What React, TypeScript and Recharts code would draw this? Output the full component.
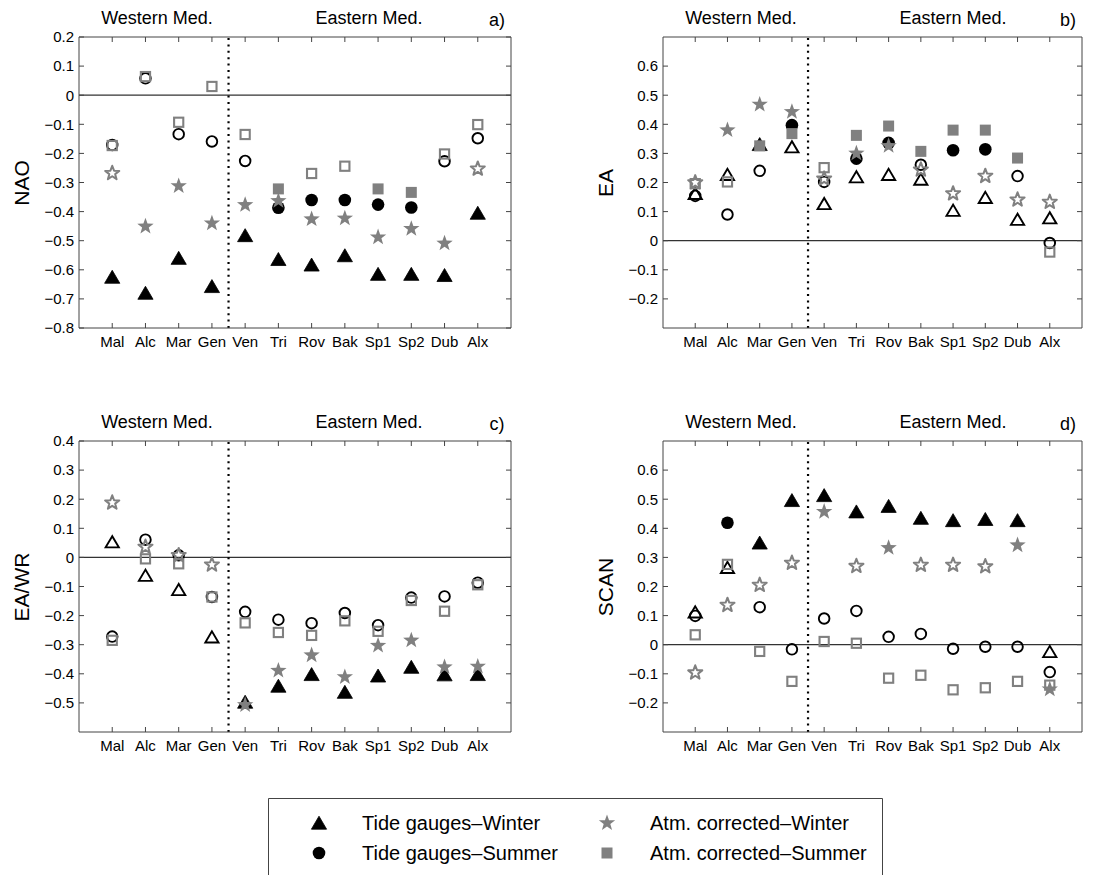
import { ScatterChart, Scatter, XAxis, YAxis, ReferenceLine } from "recharts";

const FONT = '"Liberation Sans", Arial, Helvetica, sans-serif';
const GRAY = "#808080";
const AXIS = "#444";

const stations = ["Mal", "Alc", "Mar", "Gen", "Ven", "Tri", "Rov", "Bak", "Sp1", "Sp2", "Dub", "Alx"];
const stationPos = [1, 2, 3, 4, 5, 6, 7, 8, 9, 10, 11, 12];

// a) NAO
const naoTicks = [-0.8, -0.7, -0.6, -0.5, -0.4, -0.3, -0.2, -0.1, 0, 0.1, 0.2];
const naoTgWinter = [-0.625, -0.68, -0.56, -0.657, -0.482, -0.564, -0.583, -0.551, -0.615, -0.615, -0.619, -0.405];
const naoTgWinterSig = [1, 1, 1, 1, 1, 1, 1, 1, 1, 1, 1, 1];
const naoTgSummer = [-0.171, 0.058, -0.134, -0.159, -0.226, -0.387, -0.36, -0.36, -0.376, -0.386, -0.227, -0.148];
const naoTgSummerSig = [0, 0, 0, 0, 0, 1, 1, 1, 1, 1, 0, 0];
const naoAtmWinter = [-0.268, -0.451, -0.312, -0.44, -0.377, -0.363, -0.426, -0.423, -0.488, -0.459, -0.509, -0.253];
const naoAtmWinterSig = [0, 1, 1, 1, 1, 1, 1, 1, 1, 1, 1, 0];
const naoAtmSummer = [-0.173, 0.064, -0.093, 0.03, -0.135, -0.322, -0.269, -0.244, -0.322, -0.334, -0.202, -0.101];
const naoAtmSummerSig = [0, 0, 0, 0, 0, 1, 0, 0, 1, 1, 0, 0];

// b) EA
const eaTicks = [-0.2, -0.1, 0, 0.1, 0.2, 0.3, 0.4, 0.5, 0.6];
const eaTgWinter = [0.162, 0.227, 0.331, 0.322, 0.127, 0.219, 0.227, 0.211, 0.104, 0.148, 0.073, 0.078];
const eaTgWinterSig = [0, 0, 1, 0, 0, 0, 0, 0, 0, 0, 0, 0];
const eaTgSummer = [0.154, 0.09, 0.24, 0.397, 0.202, 0.282, 0.336, 0.261, 0.311, 0.314, 0.222, -0.008];
const eaTgSummerSig = [0, 0, 0, 1, 0, 1, 1, 0, 1, 1, 0, 0];
const eaAtmWinter = [0.2, 0.38, 0.468, 0.443, 0.213, 0.3, 0.326, 0.244, 0.162, 0.222, 0.141, 0.133];
const eaAtmWinterSig = [0, 1, 1, 1, 0, 1, 1, 0, 0, 0, 0, 0];
const eaAtmSummer = [0.196, 0.202, 0.326, 0.368, 0.251, 0.362, 0.394, 0.307, 0.38, 0.38, 0.284, -0.039];
const eaAtmSummerSig = [0, 0, 1, 1, 0, 1, 1, 1, 1, 1, 1, 0];

// c) EA/WR
const eawrTicks = [-0.5, -0.4, -0.3, -0.2, -0.1, 0, 0.1, 0.2, 0.3, 0.4];
const eawrTgWinter = [0.053, -0.062, -0.111, -0.274, -0.497, -0.442, -0.402, -0.463, -0.407, -0.377, -0.403, -0.402];
const eawrTgWinterSig = [0, 0, 0, 0, 1, 1, 1, 1, 1, 1, 1, 1];
const eawrTgSummer = [-0.272, 0.061, 0.007, -0.136, -0.187, -0.214, -0.226, -0.191, -0.233, -0.138, -0.134, -0.087];
const eawrTgSummerSig = [0, 0, 0, 0, 0, 0, 0, 0, 0, 0, 0, 0];
const eawrAtmWinter = [0.188, 0.036, 0.007, -0.025, -0.507, -0.389, -0.336, -0.411, -0.303, -0.285, -0.377, -0.375];
const eawrAtmWinterSig = [0, 0, 0, 0, 1, 1, 1, 1, 1, 1, 1, 1];
const eawrAtmSummer = [-0.285, -0.005, -0.022, -0.136, -0.225, -0.258, -0.268, -0.218, -0.254, -0.148, -0.185, -0.094];
const eawrAtmSummerSig = [0, 0, 0, 0, 0, 0, 0, 0, 0, 0, 0, 0];

// d) SCAN
const scanTicks = [-0.2, -0.1, 0, 0.1, 0.2, 0.3, 0.4, 0.5, 0.6];
const scanTgWinter = [0.112, 0.265, 0.35, 0.496, 0.513, 0.457, 0.476, 0.435, 0.427, 0.431, 0.427, -0.024];
const scanTgWinterSig = [0, 0, 1, 1, 1, 1, 1, 1, 1, 1, 1, 0];
const scanTgSummer = [0.099, 0.419, 0.129, -0.016, 0.09, 0.116, 0.027, 0.037, -0.014, -0.007, -0.007, -0.094];
const scanTgSummerSig = [0, 1, 0, 0, 0, 0, 0, 0, 0, 0, 0, 0];
const scanAtmWinter = [-0.096, 0.136, 0.205, 0.281, 0.457, 0.27, 0.333, 0.274, 0.274, 0.269, 0.342, -0.153];
const scanAtmWinterSig = [0, 0, 0, 0, 1, 0, 1, 0, 0, 0, 1, 1];
const scanAtmSummer = [0.034, 0.276, -0.023, -0.126, 0.011, 0.005, -0.115, -0.105, -0.155, -0.148, -0.126, -0.139];
const scanAtmSummerSig = [0, 0, 0, 0, 0, 0, 0, 0, 0, 0, 0, 0];

type Kind = "tri" | "circ" | "star" | "sq";

function starPoints(cx: number, cy: number, R: number, r: number) {
  const pts: string[] = [];
  for (let i = 0; i < 10; i++) {
    const rad = i % 2 === 0 ? R : r;
    const a = -Math.PI / 2 + (i * Math.PI) / 5;
    pts.push(`${cx + rad * Math.cos(a)},${cy + rad * Math.sin(a)}`);
  }
  return pts.join(" ");
}

function Marker({ kind, cx, cy, filled }: { kind: Kind; cx: number; cy: number; filled: boolean }) {
  if (cx == null || cy == null) return null;
  if (kind === "tri") {
    const pts = `${cx},${cy - 6.8} ${cx - 7.6},${cy + 6.2} ${cx + 7.6},${cy + 6.2}`;
    return filled ? (
      <polygon points={pts} fill="#000" stroke="#000" strokeWidth={0.8} />
    ) : (
      <polygon points={`${cx},${cy - 5.8} ${cx - 6.6},${cy + 5.4} ${cx + 6.6},${cy + 5.4}`} fill="none" stroke="#000" strokeWidth={1.9} />
    );
  }
  if (kind === "circ") {
    return filled ? (
      <circle cx={cx} cy={cy} r={6.3} fill="#000" />
    ) : (
      <circle cx={cx} cy={cy} r={5.3} fill="none" stroke="#000" strokeWidth={1.9} />
    );
  }
  if (kind === "star") {
    return filled ? (
      <polygon points={starPoints(cx, cy, 8.6, 3.5)} fill={GRAY} />
    ) : (
      <polygon points={starPoints(cx, cy, 7.4, 3.1)} fill="none" stroke={GRAY} strokeWidth={2} strokeLinejoin="round" />
    );
  }
  return filled ? (
    <rect x={cx - 5.5} y={cy - 5.5} width={11} height={11} fill={GRAY} />
  ) : (
    <rect x={cx - 4.6} y={cy - 4.6} width={9.2} height={9.2} fill="none" stroke={GRAY} strokeWidth={2.1} />
  );
}

const fmt = (v: number) => (Math.abs(v) < 1e-9 ? "0" : (v < 0 ? "\u2212" : "") + Math.abs(v).toFixed(1));

function build(vals: number[], sig: number[]) {
  return vals.map((y, i) => ({ x: stationPos[i], y, sig: sig[i], name: stations[i] }));
}

type PanelProps = {
  left: number;
  top: number;
  width: number;
  plotLeft: number;
  plotRight: number;
  domain: [number, number];
  ticks: number[];
  label: string;
  letter: string;
  series: { kind: Kind; vals: number[]; sig: number[] }[];
};

const H = 370;
const PLOT_TOP = 37;
const PLOT_BOTTOM = 328;
const YW = 60;
const XH = 30;
const EDGE = 2;

function Panel({ left, top, width, plotLeft, plotRight, domain, ticks, label, letter, series }: PanelProps) {
  const tickStyle = { fill: "#000", fontSize: 15, fontFamily: FONT };
  return (
    <div style={{ position: "absolute", left, top, width, height: H }}>
      <ScatterChart
        width={width}
        height={H}
        margin={{
          top: PLOT_TOP - EDGE,
          left: plotLeft - YW,
          right: width - plotRight - EDGE,
          bottom: H - PLOT_BOTTOM - XH,
        }}
      >
        <XAxis
          xAxisId={0}
          type="number"
          dataKey="x"
          domain={[0, 13]}
          ticks={stationPos}
          allowDataOverflow
          height={XH}
          tickSize={-5}
          tickMargin={13}
          interval={0}
          tickFormatter={(v: number) => stations[v - 1] ?? ""}
          stroke={AXIS}
          tick={tickStyle}
        />
        <XAxis
          xAxisId="top"
          orientation="top"
          type="number"
          dataKey="x"
          domain={[0, 13]}
          ticks={stationPos}
          allowDataOverflow
          height={EDGE}
          tickSize={-5}
          interval={0}
          tickFormatter={() => ""}
          stroke={AXIS}
        />
        <YAxis
          yAxisId={0}
          type="number"
          dataKey="y"
          domain={domain}
          ticks={ticks}
          allowDataOverflow
          width={YW}
          tickSize={-5}
          tickMargin={10}
          interval={0}
          tickFormatter={fmt}
          stroke={AXIS}
          tick={tickStyle}
        />
        <YAxis
          yAxisId="right"
          orientation="right"
          type="number"
          dataKey="y"
          domain={domain}
          ticks={ticks}
          allowDataOverflow
          width={EDGE}
          tickSize={-5}
          interval={0}
          tickFormatter={() => ""}
          stroke={AXIS}
        />
        <ReferenceLine y={0} stroke="#333" strokeWidth={1.2} />
        <ReferenceLine x={4.5} stroke="#000" strokeWidth={2.2} strokeDasharray="2 4.4" />
        {series.map((s, i) => (
          <Scatter
            key={i}
            data={build(s.vals, s.sig)}
            isAnimationActive={false}
            shape={(p: any) => <Marker kind={s.kind} cx={p.cx} cy={p.cy} filled={p.payload?.sig === 1} />}
          />
        ))}
      </ScatterChart>
      <div style={{ ...textStyle, left: 157 + (plotLeft - 79), top: 18 }}>Western Med.</div>
      <div style={{ ...textStyle, left: 369 + (plotLeft - 79), top: 18 }}>Eastern Med.</div>
      <div style={{ ...textStyle, left: plotRight - 14, top: 20 }}>{letter}</div>
      <div
        style={{
          ...textStyle,
          fontSize: 21,
          left: plotLeft - 58,
          top: (PLOT_TOP + PLOT_BOTTOM) / 2,
          transform: "translate(-50%, -50%) rotate(-90deg)",
        }}
      >
        {label}
      </div>
    </div>
  );
}

const textStyle: React.CSSProperties = {
  position: "absolute",
  fontFamily: FONT,
  fontSize: 18,
  color: "#000",
  whiteSpace: "nowrap",
  transform: "translate(-50%, -50%)",
  lineHeight: 1,
};

function LegendBox() {
  const rows = [
    { kind: "tri" as Kind, text: "Tide gauges\u2013Winter", x: 51, tx: 94, y: 25 },
    { kind: "circ" as Kind, text: "Tide gauges\u2013Summer", x: 51, tx: 94, y: 55 },
    { kind: "star" as Kind, text: "Atm. corrected\u2013Winter", x: 339, tx: 382, y: 25 },
    { kind: "sq" as Kind, text: "Atm. corrected\u2013Summer", x: 339, tx: 382, y: 55 },
  ];
  return (
    <svg style={{ position: "absolute", left: 268, top: 798 }} width={616} height={80}>
      <path d="M0.5,80 L0.5,0.5 L614.5,0.5 L614.5,80" fill="none" stroke="#444" strokeWidth={1} />
      {rows.map((r) => (
        <g key={r.text}>
          <Marker kind={r.kind} cx={r.x} cy={r.y} filled />
          <text x={r.tx} y={r.y} dominantBaseline="central" fontFamily={FONT} fontSize={20} fill="#000">
            {r.text}
          </text>
        </g>
      ))}
    </svg>
  );
}

export default function App() {
  return (
    <div style={{ position: "absolute", left: 0, top: 0, width: 1112, height: 875, background: "#fff", overflow: "hidden" }}>
      <Panel
        left={0}
        top={0}
        width={540}
        plotLeft={79}
        plotRight={511}
        domain={[-0.8, 0.2]}
        ticks={naoTicks}
        label="NAO"
        letter="a)"
        series={[
          { kind: "tri", vals: naoTgWinter, sig: naoTgWinterSig },
          { kind: "circ", vals: naoTgSummer, sig: naoTgSummerSig },
          { kind: "star", vals: naoAtmWinter, sig: naoAtmWinterSig },
          { kind: "sq", vals: naoAtmSummer, sig: naoAtmSummerSig },
        ]}
      />
      <Panel
        left={560}
        top={0}
        width={552}
        plotLeft={103}
        plotRight={522}
        domain={[-0.3, 0.7]}
        ticks={eaTicks}
        label="EA"
        letter="b)"
        series={[
          { kind: "tri", vals: eaTgWinter, sig: eaTgWinterSig },
          { kind: "circ", vals: eaTgSummer, sig: eaTgSummerSig },
          { kind: "star", vals: eaAtmWinter, sig: eaAtmWinterSig },
          { kind: "sq", vals: eaAtmSummer, sig: eaAtmSummerSig },
        ]}
      />
      <Panel
        left={0}
        top={404}
        width={540}
        plotLeft={79}
        plotRight={511}
        domain={[-0.6, 0.4]}
        ticks={eawrTicks}
        label="EA/WR"
        letter="c)"
        series={[
          { kind: "tri", vals: eawrTgWinter, sig: eawrTgWinterSig },
          { kind: "circ", vals: eawrTgSummer, sig: eawrTgSummerSig },
          { kind: "star", vals: eawrAtmWinter, sig: eawrAtmWinterSig },
          { kind: "sq", vals: eawrAtmSummer, sig: eawrAtmSummerSig },
        ]}
      />
      <Panel
        left={560}
        top={404}
        width={552}
        plotLeft={103}
        plotRight={522}
        domain={[-0.3, 0.7]}
        ticks={scanTicks}
        label="SCAN"
        letter="d)"
        series={[
          { kind: "tri", vals: scanTgWinter, sig: scanTgWinterSig },
          { kind: "circ", vals: scanTgSummer, sig: scanTgSummerSig },
          { kind: "star", vals: scanAtmWinter, sig: scanAtmWinterSig },
          { kind: "sq", vals: scanAtmSummer, sig: scanAtmSummerSig },
        ]}
      />
      <LegendBox />
    </div>
  );
}
